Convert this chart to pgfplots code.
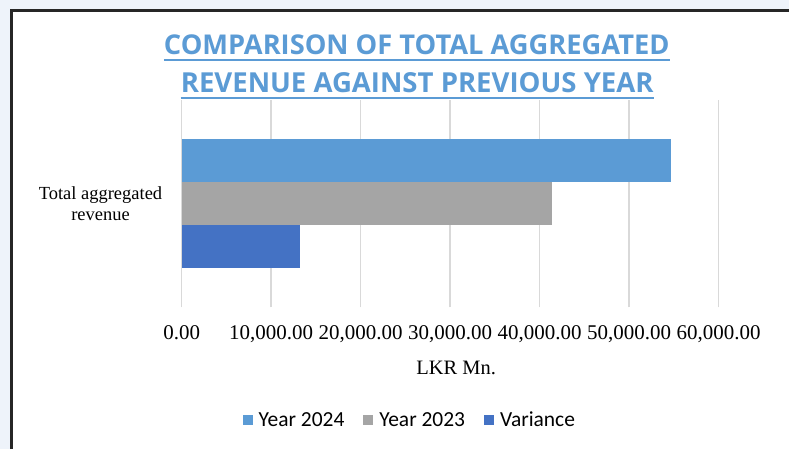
\documentclass[border=0pt]{standalone}
\usepackage{pgfplots}
\pgfplotsset{compat=1.18}
\usepackage{fontspec}
\setmainfont{Liberation Serif}
\newfontfamily\titlefont{Open Sans}
\newfontfamily\legfont{Carlito}
\definecolor{c2024}{HTML}{5B9BD5}
\definecolor{c2023}{HTML}{A5A5A5}
\definecolor{cvar}{HTML}{4472C4}
\definecolor{gridgray}{HTML}{D9D9D9}
\definecolor{bgblue}{HTML}{EEF3FA}
\definecolor{framec}{HTML}{262626}
\definecolor{titleblue}{HTML}{5B9BD5}
\begin{document}
\begin{tikzpicture}[x=1pt,y=1pt]
\fill[bgblue] (0,0) rectangle (790,450);
\fill[white] (11.5,0) rectangle (790,439);
\draw[line width=3pt, color=framec] (11.5,0) -- (11.5,439) -- (790,439);
\useasboundingbox (0,0) rectangle (790,450);
\node[anchor=base, inner sep=0pt, text=titleblue, font=\titlefont\bfseries\fontsize{27.3}{34}\selectfont] (t1) at (417.5,395) {COMPARISON OF TOTAL AGGREGATED};
\node[anchor=base, inner sep=0pt, text=titleblue, font=\titlefont\bfseries\fontsize{27.6}{34}\selectfont] (t2) at (418,357) {REVENUE AGAINST PREVIOUS YEAR};
\draw[titleblue, line width=2pt] ([yshift=-5pt]t1.base west) -- ([yshift=-5pt]t1.base east);
\draw[titleblue, line width=2pt] ([yshift=-5pt]t2.base west) -- ([yshift=-5pt]t2.base east);
\begin{axis}[
  at={(182pt,142pt)}, anchor=south west,
  scale only axis, width=538pt, height=208pt,
  xbar, bar width=43pt,
  xmin=0, xmax=60000, ymin=-1, ymax=1,
  xtick={0,10000,20000,30000,40000,50000,60000},
  ytick={0}, yticklabels={{Total aggregated\\revenue}},
  yticklabel style={align=center, font=\fontsize{18.5}{21}\selectfont, xshift=-16pt},
  xticklabel style={font=\fontsize{21}{24}\selectfont, yshift=-15pt},
  /pgf/number format/assume math mode=true,
  xticklabel={\pgfmathprintnumber[fixed, fixed zerofill, precision=2, 1000 sep={,}]{\tick}},
  scaled x ticks=false,
  axis line style={draw=none},
  major tick length=0pt,
  xmajorgrids, grid style={color=gridgray, line width=1.5pt},
  xlabel={LKR Mn.}, xlabel style={font=\fontsize{20.5}{24}\selectfont, yshift=-11pt, xshift=6pt},
  legend columns=3,
  legend style={draw=none, fill=none, at={(0.425,-0.544)}, anchor=center, font=\legfont\fontsize{21.5}{24}\selectfont,
    /tikz/every even column/.append style={column sep=17pt},
    /tikz/every odd column/.append style={column sep=4pt}},
  legend image code/.code={\fill[#1] (0pt,-5pt) rectangle (10pt,5pt);},
]
\addplot[fill=c2024, draw=none, bar shift=43pt] coordinates {(54650,0)};
\addplot[fill=c2023, draw=none, bar shift=0pt] coordinates {(41380,0)};
\addplot[fill=cvar, draw=none, bar shift=-43pt] coordinates {(13270,0)};
\legend{Year 2024, Year 2023, Variance}
\end{axis}
\end{tikzpicture}
\end{document}
